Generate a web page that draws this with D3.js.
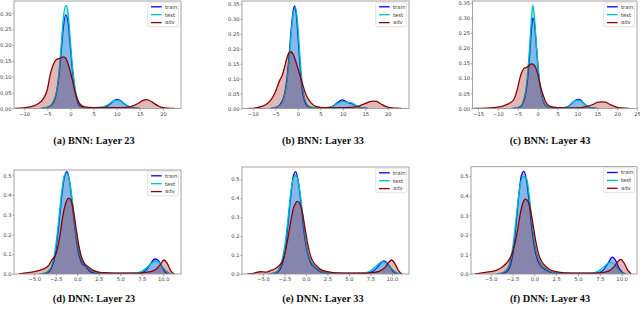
<!DOCTYPE html>
<html lang="en">
<head>
<meta charset="UTF-8">
<title>KDE panels</title>
<script src="https://d3js.org/d3.v7.min.js"></script>
<style>
    body {margin: 0; background: #fff;}
    .tick text {font-family: "DejaVu Sans", sans-serif; font-size: 5.2px; fill: #444;}
    .caption {font-family: "Liberation Serif", serif; font-weight: bold; font-size: 10.3px; fill: #111;}
    .legend text {font-family: "DejaVu Sans", sans-serif; font-size: 5.3px; fill: #444;}
</style>
</head>
<body>
<div id="chart"></div>
<script>

// Series names and captions
var seriesNames = ["train", "test", "adv"];
var captions = ["(a) BNN: Layer 23", "(b) BNN: Layer 33", "(c) BNN: Layer 43",
                "(d) DNN: Layer 23", "(e) DNN: Layer 33", "(f) DNN: Layer 43"];

// Tick labels
var xTicksBNN = [-10, -5, 0, 5, 10, 15, 20];
var xTicksBNN43 = [-15, -10, -5, 0, 5, 10, 15, 20, 25];
var xTicksDNN = [-5, -2.5, 0, 2.5, 5, 7.5, 10];
var yTicksBNN23 = [0, 0.05, 0.10, 0.15, 0.20, 0.25, 0.30];
var yTicksBNN = [0, 0.05, 0.10, 0.15, 0.20, 0.25, 0.30, 0.35];
var yTicksDNN = [0, 0.1, 0.2, 0.3, 0.4, 0.5];

// Density curves: [value, density]
var a_train = [[-6,0],[-5,0.003],[-4,0.012],[-3,0.05],[-2.5,0.1],[-2,0.18],[-1.5,0.26],[-1,0.295],[-0.5,0.27],[0,0.19],[0.5,0.11],[1,0.055],[1.5,0.022],[2,0.008],[3,0.003],[4,0.002],[6,0.002],[7.5,0.005],[8.5,0.013],[9.3,0.024],[10,0.029],[10.7,0.026],[11.5,0.016],[12.5,0.006],[13.5,0.002],[15,0]];
var a_test = [[-6.5,0],[-5,0.004],[-4,0.015],[-3,0.055],[-2.5,0.11],[-2,0.2],[-1.5,0.29],[-1,0.325],[-0.5,0.3],[0,0.21],[0.5,0.125],[1,0.065],[1.5,0.03],[2,0.013],[2.5,0.006],[3.5,0.003],[5,0.003],[7,0.005],[8,0.011],[9,0.021],[10,0.026],[11,0.022],[12,0.012],[13,0.004],[14.5,0]];
var a_adv = [[-12,0],[-10,0.002],[-8,0.008],[-7,0.015],[-6,0.028],[-5,0.06],[-4.4,0.105],[-3.5,0.145],[-3,0.155],[-2.5,0.157],[-2,0.16],[-1.5,0.163],[-1,0.158],[-0.5,0.14],[0,0.115],[0.5,0.085],[1,0.052],[1.5,0.03],[2,0.015],[3,0.005],[5,0.003],[8,0.003],[11,0.003],[13,0.006],[14.5,0.015],[15.5,0.024],[16.3,0.028],[17,0.026],[18,0.017],[19,0.008],[20,0.003],[21,0.001],[22.5,0]];

var b_train = [[-6,0],[-5,0.003],[-4,0.012],[-3,0.045],[-2.5,0.09],[-2,0.165],[-1.5,0.26],[-1,0.33],[-0.7,0.344],[-0.3,0.31],[0,0.25],[0.5,0.14],[1,0.06],[1.5,0.025],[2,0.01],[3,0.003],[5,0.002],[7,0.004],[8,0.01],[9,0.022],[9.8,0.029],[10.5,0.025],[11.2,0.019],[12,0.016],[13,0.008],[14,0.003],[15.5,0]];
var b_test = [[-6,0],[-5,0.003],[-4,0.01],[-3,0.04],[-2.5,0.08],[-2,0.15],[-1.5,0.245],[-1,0.32],[-0.5,0.338],[0,0.28],[0.5,0.17],[1,0.08],[1.5,0.035],[2,0.015],[2.5,0.007],[3.5,0.003],[5,0.003],[7,0.004],[8,0.009],[9,0.018],[10,0.024],[11,0.02],[12,0.019],[13,0.01],[14,0.004],[15.5,0]];
var b_adv = [[-11,0],[-9,0.003],[-8,0.007],[-7,0.014],[-6,0.028],[-5,0.055],[-4.5,0.075],[-4,0.095],[-3.5,0.11],[-3,0.135],[-2.5,0.165],[-2,0.185],[-1.5,0.19],[-1,0.18],[-0.5,0.16],[0,0.135],[0.5,0.11],[1,0.085],[1.5,0.06],[2,0.04],[3,0.018],[4,0.007],[6,0.003],[9,0.003],[12,0.004],[13.5,0.008],[15,0.017],[16,0.023],[16.8,0.025],[17.5,0.024],[18.5,0.015],[19.5,0.007],[20.5,0.003],[22,0.001],[23,0]];

var c_train = [[-6,0],[-5,0.003],[-4,0.01],[-3.5,0.025],[-3,0.05],[-2.5,0.1],[-2,0.18],[-1.5,0.27],[-1.2,0.3],[-0.8,0.28],[-0.3,0.2],[0,0.15],[0.5,0.085],[1,0.045],[1.5,0.02],[2,0.01],[3,0.003],[5,0.002],[7,0.004],[8,0.01],[9,0.022],[10,0.03],[10.7,0.029],[11.5,0.018],[12.5,0.007],[13.5,0.002],[15,0]];
var c_test = [[-6.5,0],[-5,0.003],[-4,0.012],[-3.5,0.03],[-3,0.06],[-2.5,0.12],[-2,0.21],[-1.5,0.31],[-1.2,0.342],[-0.8,0.3],[-0.3,0.21],[0,0.155],[0.5,0.09],[1,0.048],[1.5,0.022],[2,0.01],[3,0.003],[5,0.002],[7,0.004],[8,0.01],[9,0.022],[10,0.028],[11,0.024],[12,0.012],[13,0.004],[14.5,0]];
var c_adv = [[-16,0],[-13,0.001],[-11,0.003],[-9,0.007],[-8,0.012],[-7,0.018],[-6,0.03],[-5,0.07],[-4.5,0.1],[-4,0.12],[-3.5,0.132],[-3,0.135],[-2.5,0.138],[-2,0.145],[-1.5,0.148],[-1,0.145],[-0.5,0.135],[0,0.115],[0.5,0.085],[1,0.06],[1.5,0.04],[2,0.022],[3,0.008],[5,0.003],[8,0.002],[11,0.003],[12.5,0.007],[14,0.014],[15,0.02],[16,0.022],[17,0.021],[18,0.015],[19,0.009],[20,0.004],[21,0.002],[23,0]];

var d_train = [[-4,0],[-3.5,0.005],[-3,0.03],[-2.7,0.07],[-2.4,0.15],[-2.1,0.27],[-1.8,0.4],[-1.5,0.49],[-1.2,0.519],[-0.9,0.47],[-0.6,0.36],[-0.3,0.24],[0,0.14],[0.3,0.08],[0.6,0.05],[0.9,0.04],[1.2,0.025],[1.5,0.012],[2,0.005],[3,0.003],[5,0.003],[7,0.003],[7.6,0.008],[8,0.02],[8.5,0.05],[9,0.076],[9.4,0.07],[9.8,0.04],[10.2,0.01],[10.6,0]];
var d_test = [[-4.3,0],[-3.5,0.01],[-3,0.04],[-2.7,0.09],[-2.4,0.18],[-2.1,0.3],[-1.8,0.42],[-1.5,0.5],[-1.2,0.51],[-0.9,0.47],[-0.6,0.38],[-0.3,0.26],[0,0.16],[0.3,0.1],[0.6,0.065],[1,0.04],[1.5,0.022],[2,0.01],[2.5,0.006],[3.5,0.004],[5,0.003],[6.5,0.004],[7.3,0.01],[8,0.03],[8.5,0.05],[9.1,0.066],[9.6,0.055],[10,0.03],[10.5,0.01],[11,0]];
var d_adv = [[-6.8,0],[-6,0.005],[-5,0.012],[-4.3,0.02],[-3.7,0.03],[-3.3,0.045],[-2.9,0.075],[-2.6,0.09],[-2.3,0.13],[-2,0.2],[-1.7,0.29],[-1.4,0.35],[-1,0.384],[-0.7,0.37],[-0.4,0.31],[-0.1,0.22],[0.2,0.14],[0.5,0.085],[0.9,0.05],[1.3,0.035],[1.8,0.02],[2.5,0.01],[3.5,0.006],[5,0.004],[6.5,0.004],[7.5,0.006],[8.5,0.012],[9.2,0.025],[9.6,0.045],[10.1,0.071],[10.5,0.05],[10.9,0.015],[11.3,0]];

var e_train = [[-4,0],[-3.5,0.004],[-3,0.025],[-2.7,0.06],[-2.4,0.13],[-2.1,0.26],[-1.8,0.4],[-1.5,0.51],[-1.2,0.541],[-0.9,0.49],[-0.6,0.38],[-0.3,0.25],[0,0.15],[0.3,0.09],[0.6,0.055],[1,0.035],[1.4,0.02],[1.8,0.01],[2.5,0.004],[4,0.003],[6,0.003],[7.2,0.005],[7.8,0.015],[8.3,0.035],[8.7,0.058],[9.05,0.069],[9.4,0.06],[9.8,0.035],[10.2,0.01],[10.6,0]];
var e_test = [[-4.3,0],[-3.5,0.01],[-3,0.04],[-2.7,0.09],[-2.4,0.17],[-2.1,0.29],[-1.8,0.42],[-1.5,0.5],[-1.2,0.52],[-0.9,0.49],[-0.6,0.4],[-0.3,0.28],[0,0.17],[0.3,0.1],[0.6,0.065],[1,0.04],[1.5,0.022],[2,0.01],[2.5,0.006],[3.5,0.004],[5,0.003],[6.5,0.004],[7.3,0.012],[8,0.035],[8.5,0.055],[8.9,0.065],[9.4,0.055],[9.9,0.03],[10.4,0.01],[11,0]];
var e_adv = [[-6.8,0],[-6,0.005],[-5.3,0.012],[-4.6,0.01],[-4,0.02],[-3.5,0.03],[-3,0.05],[-2.7,0.07],[-2.4,0.12],[-2.1,0.19],[-1.8,0.27],[-1.5,0.34],[-1.2,0.375],[-1,0.383],[-0.7,0.37],[-0.4,0.32],[-0.1,0.24],[0.2,0.16],[0.5,0.1],[0.9,0.06],[1.3,0.04],[1.8,0.022],[2.5,0.012],[3.5,0.006],[5,0.004],[6.5,0.004],[7.5,0.006],[8.5,0.014],[9.2,0.035],[9.6,0.06],[9.96,0.074],[10.4,0.05],[10.8,0.015],[11.2,0]];

var f_train = [[-4,0],[-3.5,0.004],[-3,0.02],[-2.7,0.05],[-2.4,0.12],[-2.1,0.25],[-1.8,0.39],[-1.5,0.5],[-1.2,0.525],[-0.9,0.48],[-0.6,0.37],[-0.3,0.24],[0,0.14],[0.3,0.08],[0.6,0.05],[1,0.03],[1.4,0.018],[1.8,0.01],[2.5,0.004],[4,0.003],[6,0.003],[7.3,0.006],[8,0.025],[8.5,0.06],[8.94,0.086],[9.3,0.07],[9.7,0.03],[10.1,0.008],[10.5,0]];
var f_test = [[-4.3,0],[-3.5,0.01],[-3,0.035],[-2.7,0.08],[-2.4,0.16],[-2.1,0.28],[-1.8,0.4],[-1.5,0.48],[-1.2,0.5],[-0.9,0.49],[-0.6,0.41],[-0.3,0.28],[0,0.17],[0.3,0.1],[0.6,0.065],[1,0.04],[1.5,0.022],[2,0.01],[2.5,0.006],[3.5,0.004],[5,0.003],[6.5,0.004],[7.2,0.012],[7.8,0.03],[8.3,0.05],[8.7,0.06],[9.1,0.055],[9.6,0.025],[10,0.008],[10.5,0]];
var f_adv = [[-6.8,0],[-6,0.006],[-5,0.012],[-4.3,0.02],[-3.7,0.035],[-3.2,0.055],[-2.8,0.08],[-2.5,0.11],[-2.2,0.16],[-1.9,0.23],[-1.6,0.31],[-1.3,0.365],[-1,0.383],[-0.7,0.37],[-0.4,0.32],[-0.1,0.24],[0.2,0.16],[0.5,0.1],[0.9,0.06],[1.3,0.04],[1.8,0.022],[2.5,0.012],[3.5,0.006],[5,0.004],[6.5,0.004],[7.5,0.006],[8.5,0.015],[9.1,0.035],[9.5,0.06],[9.9,0.075],[10.3,0.055],[10.7,0.02],[11.1,0]];

// Layout of each panel (frame box in pixels, axis limits)
var panels = [
    {left: 14, right: 181, top: 1, bottom: 108.5, xDom: [-12.2, 23.9], yDom: [0, 0.339], xTicks: xTicksBNN, yTicks: yTicksBNN23, xFmt: "d", yFmt: ".2f", data: [a_train, a_test, a_adv], capX: 94, capY: 143.5},
    {left: 242, right: 409, top: 1, bottom: 108.5, xDom: [-12.4, 24.7], yDom: [0, 0.36], xTicks: xTicksBNN, yTicks: yTicksBNN, xFmt: "d", yFmt: ".2f", data: [b_train, b_test, b_adv], capX: 323, capY: 143.5},
    {left: 472.5, right: 637, top: 1, bottom: 108.5, xDom: [-16.4, 25], yDom: [0, 0.356], xTicks: xTicksBNN43, yTicks: yTicksBNN, xFmt: "d", yFmt: ".2f", data: [c_train, c_test, c_adv], capX: 550, capY: 143.5},
    {left: 14, right: 181, top: 170, bottom: 274, xDom: [-7.36, 12.06], yDom: [0, 0.527], xTicks: xTicksDNN, yTicks: yTicksDNN, xFmt: ".1f", yFmt: ".1f", data: [d_train, d_test, d_adv], capX: 94, capY: 301.5},
    {left: 242, right: 409, top: 167, bottom: 274, xDom: [-7.44, 11.98], yDom: [0, 0.565], xTicks: xTicksDNN, yTicks: yTicksDNN, xFmt: ".1f", yFmt: ".1f", data: [e_train, e_test, e_adv], capX: 323, capY: 301.5},
    {left: 471, right: 637, top: 166.7, bottom: 274, xDom: [-7.25, 11.76], yDom: [0, 0.549], xTicks: xTicksDNN, yTicks: yTicksDNN, xFmt: ".1f", yFmt: ".1f", data: [f_train, f_test, f_adv], capX: 550, capY: 301.5}
];

var colors = ["#0000ff", "#00bfbf", "#8b0000"];
var fillAlpha = 0.28;

// matplotlib style minus sign
function fmt(spec) {
    var f = d3.format(spec);
    return function(v) { return f(v).replace("-", "\u2212"); };
}

var svg = d3.select("#chart").append("svg")
    .attr("width", 640)
    .attr("height", 313);

panels.forEach(function(p, k) {
    var x = d3.scaleLinear().domain(p.xDom).range([p.left, p.right]);
    var y = d3.scaleLinear().domain(p.yDom).range([p.bottom, p.top]);

    var g = svg.append("g");

    // clip to the frame
    g.append("clipPath").attr("id", "clip" + k)
        .append("rect")
        .attr("x", p.left).attr("y", p.top)
        .attr("width", p.right - p.left).attr("height", p.bottom - p.top);

    var plot = g.append("g").attr("clip-path", "url(#clip" + k + ")");

    var area = d3.area()
        .x(function(d){ return x(d[0]); })
        .y0(y(0))
        .y1(function(d){ return y(d[1]); })
        .curve(d3.curveMonotoneX);
    var line = d3.line()
        .x(function(d){ return x(d[0]); })
        .y(function(d){ return y(d[1]); })
        .curve(d3.curveMonotoneX);

    p.data.forEach(function(series, i) {
        plot.append("path")
            .datum(series)
            .attr("d", area)
            .attr("fill", colors[i])
            .attr("fill-opacity", fillAlpha);
        plot.append("path")
            .datum(series)
            .attr("d", line)
            .attr("fill", "none")
            .attr("stroke", colors[i])
            .attr("stroke-width", 1.3);
    });

    // axes
    var xAxis = d3.axisBottom(x).tickValues(p.xTicks).tickFormat(fmt(p.xFmt))
        .tickSize(2).tickPadding(1.5);
    var yAxis = d3.axisLeft(y).tickValues(p.yTicks).tickFormat(fmt(p.yFmt))
        .tickSize(1.5).tickPadding(1);

    g.append("g").attr("transform", "translate(0," + p.bottom + ")").call(xAxis)
        .call(function(a){ a.select(".domain").remove(); })
        .selectAll("line").attr("stroke", "#666").attr("stroke-width", 0.6);
    g.append("g").attr("transform", "translate(" + p.left + ",0)").call(yAxis)
        .call(function(a){ a.select(".domain").remove(); })
        .selectAll("line").attr("stroke", "#666").attr("stroke-width", 0.6);

    // frame
    g.append("rect")
        .attr("x", p.left).attr("y", p.top)
        .attr("width", p.right - p.left).attr("height", p.bottom - p.top)
        .attr("fill", "none").attr("stroke", "#8c8c8c").attr("stroke-width", 0.8);

    // legend
    var lg = g.append("g").attr("class", "legend")
        .attr("transform", "translate(" + (p.right - 33.3) + "," + (p.top + 1.2) + ")");
    lg.append("rect")
        .attr("width", 30.6).attr("height", 24.5).attr("rx", 1.5)
        .attr("fill", "#fff").attr("fill-opacity", 0.8)
        .attr("stroke", "#d0d0d0").attr("stroke-width", 0.6);
    seriesNames.forEach(function(name, i) {
        var ly = 4.6 + i * 7.9;
        lg.append("line")
            .attr("x1", 3.3).attr("x2", 14).attr("y1", ly).attr("y2", ly)
            .attr("stroke", colors[i]).attr("stroke-width", 1.3);
        lg.append("text")
            .attr("x", 17.3).attr("y", ly + 1.9)
            .text(name);
    });

    // caption
    svg.append("text")
        .attr("class", "caption")
        .attr("x", p.capX).attr("y", p.capY)
        .attr("text-anchor", "middle")
        .text(captions[k]);
});

</script>
</body>
</html>
